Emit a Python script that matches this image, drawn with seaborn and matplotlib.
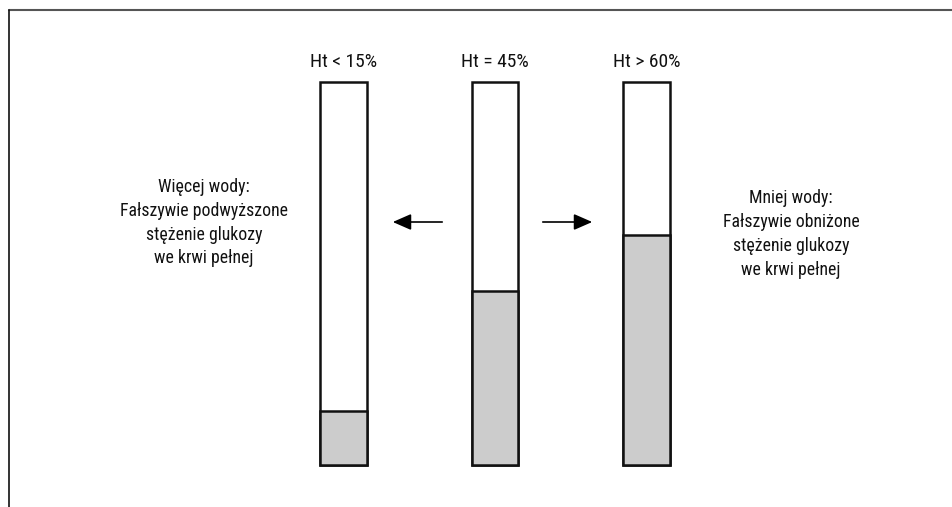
import matplotlib
matplotlib.use("Agg")
import matplotlib.pyplot as plt
from matplotlib.lines import Line2D
from matplotlib.patches import FancyArrowPatch
import seaborn as sns
import pandas as pd

categories = ["Ht < 15%", "Ht = 45%", "Ht > 60%"]
hematocrit = [14, 45.5, 60]
full = [100, 100, 100]
left_lines = ["Więcej wody:", "Fałszywie podwyższone", "stężenie glukozy", "we krwi pełnej"]
right_lines = ["Mniej wody:", "Fałszywie obniżone", "stężenie glukozy", "we krwi pełnej"]

sns.set_theme(style="white")
plt.rcParams['font.family'] = ['Roboto Condensed', 'Roboto', 'DejaVu Sans']

W, H = 952, 507
fig = plt.figure(figsize=(W / 100, H / 100), dpi=100)
fig.patch.set_facecolor("white")

x_left = 267.75
x_w = 454.5
y_bot = 465
y_top = 82
ax = fig.add_axes([x_left / W, (H - y_bot) / H, x_w / W, (y_bot - y_top) / H])
ax.set_facecolor("none")

df = pd.DataFrame({"cat": categories, "ht": hematocrit, "full": full})
sns.barplot(data=df, x="cat", y="full", color="white", edgecolor="#111111",
            linewidth=1.8, width=0.31, ax=ax, saturation=1)
sns.barplot(data=df, x="cat", y="ht", color="#cccccc", edgecolor="#111111",
            linewidth=1.8, width=0.31, ax=ax, saturation=1)
for p in ax.patches:
    p.set_clip_on(False)
ax.set_xlim(-0.5, 2.5)
ax.set_ylim(0, 100)
ax.set_xlabel("")
ax.set_ylabel("")
ax.set_xticks([])
ax.set_yticks([])
for s in ax.spines.values():
    s.set_visible(False)

for i, c in enumerate(categories):
    ax.annotate(c, xy=(i, 100), xytext=(0, 15 * 0.72), textcoords="offset points",
                ha="center", va="baseline", fontsize=14, color="#111111",
                annotation_clip=False)

fs = 12.8
for k, line in enumerate(left_lines):
    fig.text(204 / W, 1 - (192 + 23.8 * k) / H, line, ha="center", va="baseline",
             fontsize=fs, color="#111111")
for k, line in enumerate(right_lines):
    fig.text(791 / W, 1 - (203.5 + 23.8 * k) / H, line, ha="center", va="baseline",
             fontsize=fs, color="#111111")

arrow_y = 1 - 222 / H
for x0, x1 in [(445, 390), (540, 595)]:
    fig.add_artist(FancyArrowPatch((x0 / W, arrow_y), (x1 / W, arrow_y),
                   transform=fig.transFigure, arrowstyle="-|>,head_length=0.8,head_width=0.35",
                   mutation_scale=14, color="black", lw=1.2))

fig.add_artist(Line2D([9 / W, 1], [1 - 10 / H, 1 - 10 / H], transform=fig.transFigure,
                      color="#555555", lw=1.5))
fig.add_artist(Line2D([9 / W, 9 / W], [1 - 10 / H, 0], transform=fig.transFigure,
                      color="#111111", lw=1.2))

fig.savefig("out.png", dpi=100, facecolor="white")
